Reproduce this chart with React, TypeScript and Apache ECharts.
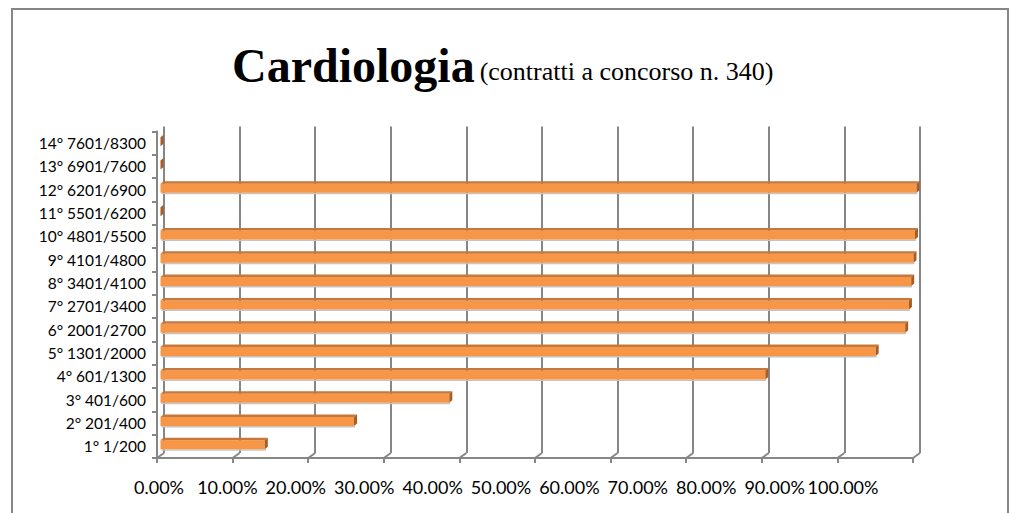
import React, { useEffect, useRef } from "react";
import * as echarts from "echarts";

const categories = [
  "1° 1/200",
  "2° 201/400",
  "3° 401/600",
  "4° 601/1300",
  "5° 1301/2000",
  "6° 2001/2700",
  "7° 2701/3400",
  "8° 3401/4100",
  "9° 4101/4800",
  "10° 4801/5500",
  "11° 5501/6200",
  "12° 6201/6900",
  "13° 6901/7600",
  "14° 7601/8300",
];
const percentages = [13.8, 25.6, 38.2, 80.0, 94.6, 98.5, 99.0, 99.3, 99.6, 99.8, 0, 100, 0, 0];
const tickValues = [0, 10, 20, 30, 40, 50, 60, 70, 80, 90, 100];
const tickLabels = [
  "0.00%",
  "10.00%",
  "20.00%",
  "30.00%",
  "40.00%",
  "50.00%",
  "60.00%",
  "70.00%",
  "80.00%",
  "90.00%",
  "100.00%",
];
const titleMain = "Cardiologia";
const titleSub = "(contratti a concorso n. 340)";

const GRAY = "#868686";
const SANS = "Lato, 'Noto Sans', sans-serif";
const SERIF = "'Liberation Serif', 'Times New Roman', serif";

export default function App() {
  const ref = useRef<HTMLDivElement>(null);
  useEffect(() => {
    if (!ref.current) return;
    const chart = echarts.init(ref.current, null, { renderer: "svg" });
    const DX = 3.5;
    const DY = 2.5;
    const option: any = {
      animation: false,
      backgroundColor: "#fff",
      title: {
        text: `{a|${titleMain}} {b|${titleSub}}`,
        left: 227,
        top: 28,
        textStyle: {
          fontWeight: "normal",
          rich: {
            a: { fontFamily: SERIF, fontWeight: "bold", fontSize: 48, color: "#000", verticalAlign: "bottom", lineHeight: 56 },
            b: { fontFamily: SERIF, fontWeight: "normal", fontSize: 26, color: "#000", verticalAlign: "bottom", lineHeight: 56, padding: [0, 0, 5, 0] },
          },
        },
      },
      graphic: [
        {
          type: "rect",
          shape: { x: 12, y: 9, width: 996, height: 520 },
          style: { fill: "none", stroke: GRAY, lineWidth: 2 },
          z: 0,
        },
      ],
      grid: [
        { left: 160.5, top: 129, width: 756, height: 326.5, outerBoundsMode: "none" },
        { left: 157, top: 131.5, width: 756, height: 326.5, outerBoundsMode: "none" },
        { left: 164, top: 126.5, width: 756, height: 326.5, outerBoundsMode: "none" },
        { left: 124.8, top: 400, width: 752.4, height: 66, outerBoundsMode: "none" },
      ],
      xAxis: [
        { gridIndex: 0, type: "value", min: 0, max: 100, show: false },
        {
          gridIndex: 1,
          type: "value",
          min: 0,
          max: 100,
          interval: 10,
          axisLine: { show: true, lineStyle: { color: GRAY, width: 2 } },
          axisTick: { show: true, length: 5, lineStyle: { color: GRAY, width: 2 } },
          axisLabel: { show: false },
          splitLine: { show: false },
        },
        {
          gridIndex: 2,
          type: "value",
          min: 0,
          max: 100,
          interval: 10,
          axisLine: { show: false },
          axisTick: { show: false },
          axisLabel: { show: false },
          splitLine: { show: true, lineStyle: { color: GRAY, width: 2 } },
        },
        {
          gridIndex: 3,
          type: "category",
          data: tickLabels,
          axisLine: { show: false },
          axisTick: { show: false },
          splitLine: { show: false },
          axisLabel: { interval: 0, fontFamily: SANS, fontSize: 18, color: "#000", margin: 12 },
        },
      ],
      yAxis: [
        { gridIndex: 0, type: "category", data: categories, show: false },
        {
          gridIndex: 1,
          type: "category",
          data: categories,
          axisLine: { show: true, lineStyle: { color: GRAY, width: 2 } },
          axisTick: { show: true, length: 5, lineStyle: { color: GRAY, width: 2 } },
          axisLabel: { fontFamily: SANS, fontSize: 15.5, color: "#000", margin: 11 },
          splitLine: { show: false },
        },
        { gridIndex: 2, type: "value", show: false },
        { gridIndex: 3, type: "value", show: false },
      ],
      series: [
        {
          type: "custom",
          xAxisIndex: 0,
          yAxisIndex: 0,
          silent: true,
          z: 1,
          data: tickValues.map((v) => [v, 0]),
          encode: { x: 0, y: 1 },
          renderItem: (params: any, api: any) => {
            const x = api.coord([api.value(0), 0])[0];
            const cs = params.coordSys;
            const b = cs.y + cs.height;
            return {
              type: "line",
              shape: { x1: x + DX, y1: b - DY, x2: x - DX, y2: b + DY },
              style: { stroke: GRAY, lineWidth: 2 },
            };
          },
        },
        {
          type: "custom",
          name: "Percentuale",
          xAxisIndex: 0,
          yAxisIndex: 0,
          z: 5,
          data: percentages.map((v, i) => [v, i]),
          encode: { x: 0, y: 1 },
          renderItem: (params: any, api: any) => {
            const idx = api.value(1);
            const v = api.value(0);
            const p0 = api.coord([0, idx]);
            const p1 = api.coord([v, idx]);
            const yc = p0[1];
            const xs = p0[0];
            const xe = p1[0];
            const yt = yc - 3.5;
            const h = 9;
            const yb = yt + h;
            const dx = 3;
            const dy = 2.5;
            return {
              type: "group",
              children: [
                {
                  type: "rect",
                  shape: { x: xs + 1, y: yb, width: Math.max(0, xe - xs), height: 1.5 },
                  style: { fill: "#c4c4c4" },
                },
                {
                  type: "rect",
                  shape: { x: xs, y: yt, width: xe - xs, height: h },
                  style: { fill: "#F79646" },
                },
                {
                  type: "polygon",
                  shape: { points: [[xs, yt], [xs + dx, yt - dy], [xe + dx, yt - dy], [xe, yt]] },
                  style: { fill: "#C8773A" },
                },
                {
                  type: "polygon",
                  shape: { points: [[xe, yt], [xe + dx, yt - dy], [xe + dx, yb - dy], [xe, yb]] },
                  style: { fill: "#A65D26" },
                },
              ],
            };
          },
        },
      ],
    };
    chart.setOption(option);
    return () => chart.dispose();
  }, []);
  return (
    <div
      ref={ref}
      style={{ position: "fixed", left: 0, top: 0, width: 1017, height: 513, background: "#fff" }}
    />
  );
}
